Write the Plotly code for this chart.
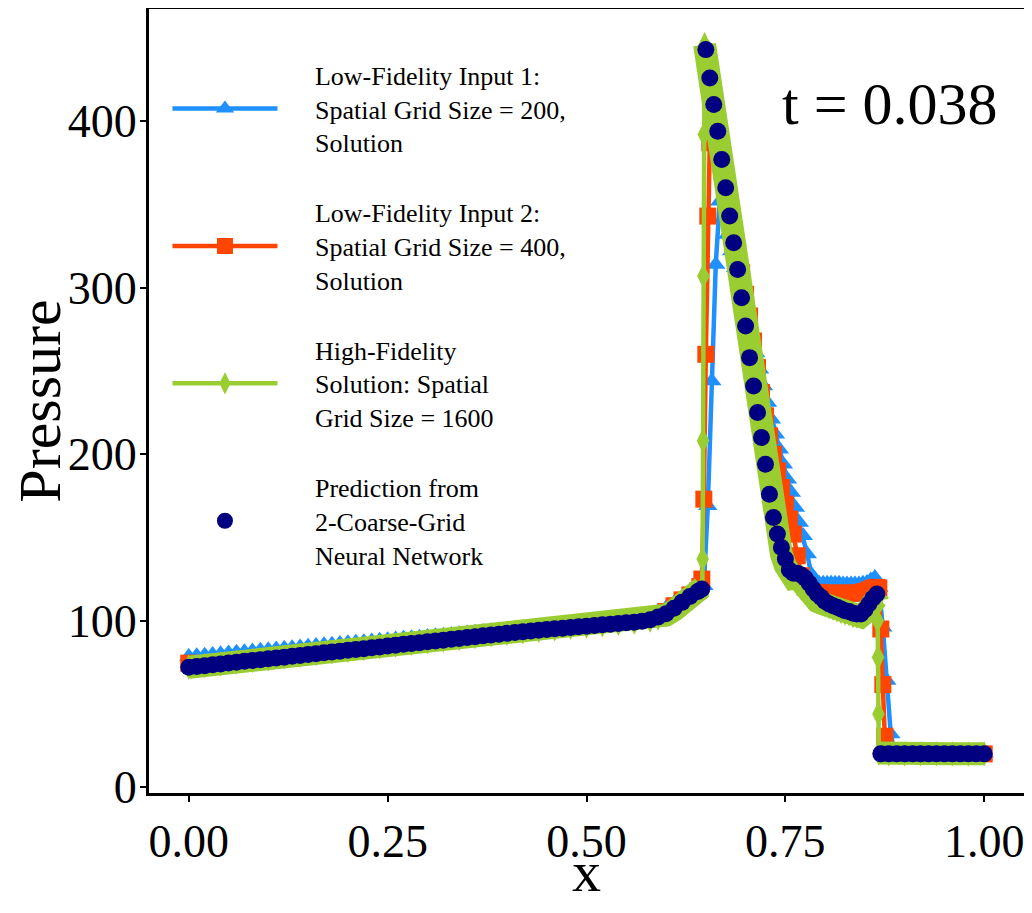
import numpy as np
import plotly.graph_objs as go

# Malhas (posições x) de cada curva
x_lf1 = np.concatenate([np.linspace(0, 0.64, 65), np.linspace(0.6475, 0.8875, 49), np.linspace(0.90, 1.0, 11)])
x_lf2 = np.concatenate([np.linspace(0, 0.58, 30),
                        [0.60, 0.61, 0.62, 0.63, 0.64, 0.6425, 0.6450, 0.6475, 0.6500, 0.6525, 0.6550, 0.6575],
                        np.linspace(0.66, 0.865, 42),
                        [0.8675, 0.8700, 0.8725, 0.8750, 0.8775],
                        np.linspace(0.88, 1.0, 7)])
x_hf = np.concatenate([np.linspace(0, 0.58, 30),
                       [0.59, 0.60, 0.61, 0.62, 0.63, 0.64, 0.6455, 0.6460, 0.6465, 0.6470, 0.6475, 0.6480, 0.6485],
                       np.linspace(0.65, 0.865, 44),
                       [0.8655, 0.8660, 0.8665, 0.8670, 0.8675],
                       np.linspace(0.88, 1.0, 7)])
x_nn = np.concatenate([np.linspace(0, 0.64, 65), np.linspace(0.645, 0.865, 45), np.linspace(0.87, 1.0, 14)])

# Pressão - baixa fidelidade, malha 200
p_lf1 = [78.5, 78.9, 79.3, 79.7, 80.1, 80.6, 81.0, 81.4, 81.8, 82.2,
         82.6, 83.0, 83.4, 83.8, 84.2, 84.7, 85.1, 85.5, 85.9, 86.3,
         86.7, 87.1, 87.4, 87.8, 88.2, 88.6, 89.0, 89.4, 89.7, 90.1,
         90.5, 90.9, 91.3, 91.7, 92.1, 92.6, 93.1, 93.5, 94.0, 94.4,
         94.9, 95.3, 95.7, 96.1, 96.5, 96.9, 97.3, 97.6, 98.0, 98.3,
         98.7, 99.1, 99.5, 99.9, 100.3, 100.8, 101.4, 102.2, 103.6, 105.6,
         107.8, 110.5, 113.5, 116.0, 118.0,
         121, 169, 244, 314, 352, 342, 332, 322, 312, 302,
         292, 282, 272, 261, 251, 241, 231, 221, 212, 203,
         194, 185, 177, 168, 159, 151, 140, 128, 123.5, 122.5,
         122.5, 122.5, 122.5, 122.5, 122.5, 122, 122, 122, 122, 122,
         122.5, 123, 124.5, 126, 120, 96, 64, 32, 21,
         20.5, 20.5, 20.5, 20.5, 20.5, 20.5, 20.5, 20.5, 20.5, 20.5, 20.5]

# Pressão - baixa fidelidade, malha 400
p_lf2 = [74.5, 74.2, 75.0, 76.1, 77.1, 78.1, 79.1, 80.1, 81.2, 82.2,
         83.2, 84.2, 85.2, 86.3, 87.3, 88.3, 89.3, 90.3, 91.4, 92.4,
         93.4, 94.3, 95.2, 96.1, 96.9, 97.7, 98.5, 99.3, 100.2, 101.6,
         105.5, 109.0, 112.5, 115.5, 118.0, 120.5, 125, 173, 260, 343, 387, 393,
         392, 382, 370, 358, 346, 334, 322, 309, 296, 283,
         268, 252, 237, 223, 211, 200, 190, 180, 170, 161,
         152, 139, 127, 120, 117.5, 117, 117, 116.5, 116.5, 116.5,
         116.5, 116.5, 116.5, 116.5, 116.5, 116.5, 116.5, 117, 117.5, 118.5,
         119.5, 120,
         119.7, 95, 61.6, 30.6, 20.5,
         20.0, 20.0, 20.0, 20.0, 20.0, 20.0, 20.0]

# Pressão - alta fidelidade, malha 1600
p_hf = [72.0, 73.0, 74.0, 75.1, 76.1, 77.1, 78.1, 79.1, 80.2, 81.2,
        82.2, 83.2, 84.2, 85.3, 86.3, 87.3, 88.3, 89.3, 90.4, 91.4,
        92.4, 93.3, 94.2, 95.1, 95.9, 96.7, 97.5, 98.3, 99.1, 100.3,
        101.5, 103.3, 106.2, 109.8, 113.3, 116.5, 120, 137, 208, 307, 392, 434, 446,
        441, 426, 410, 394, 377, 360, 343, 327, 311, 294,
        277, 258, 241, 225, 209, 193, 175, 160, 149, 140,
        133, 127.5, 125.5, 126, 122, 117, 114, 112.5, 111.5, 110.5,
        109.5, 108.5, 107.5, 106.5, 105.5, 104.5, 104, 103, 102.5, 102.5,
        104.5, 108, 111.5, 113.5,
        112, 100, 78, 44, 20.5,
        20.0, 20.0, 20.0, 20.0, 20.0, 20.0, 20.0]

# Pressão - previsão da rede neural
p_nn = [72.0, 72.5, 73.0, 73.5, 74.0, 74.6, 75.1, 75.6, 76.1, 76.6,
        77.1, 77.6, 78.1, 78.6, 79.1, 79.7, 80.2, 80.7, 81.2, 81.7,
        82.2, 82.7, 83.2, 83.7, 84.2, 84.8, 85.3, 85.8, 86.3, 86.8,
        87.3, 87.8, 88.3, 88.8, 89.3, 89.9, 90.4, 90.9, 91.4, 91.9,
        92.4, 92.9, 93.3, 93.8, 94.2, 94.7, 95.1, 95.5, 95.9, 96.3,
        96.7, 97.1, 97.5, 97.9, 98.3, 98.7, 99.1, 99.6, 100.6, 102.2,
        104.2, 107.4, 111.0, 114.5, 117.5,
        119, 443, 426, 410, 394, 377, 360, 343, 327, 311,
        294, 277, 258, 241, 225, 210, 194, 176, 162, 152,
        144, 137, 130.5, 128.5, 128.5, 127.5, 125.5, 122.5, 119, 116,
        114, 111.5, 110, 109, 108, 107, 106, 105.5, 104.5, 104,
        104, 106.5, 110, 113.5, 116,
        20.0, 20.0, 20.0, 20.0, 20.0, 20.0, 20.0, 20.0, 20.0, 20.0, 20.0, 20.0, 20.0, 20.0]

nomes = [['Low-Fidelity Input 1:', 'Spatial Grid Size = 200,', 'Solution'],
         ['Low-Fidelity Input 2:', 'Spatial Grid Size = 400,', 'Solution'],
         ['High-Fidelity', 'Solution: Spatial', 'Grid Size = 1600'],
         ['Prediction from', '2-Coarse-Grid', 'Neural Network']]

# recuo do texto da legenda (afasta o texto do simbolo, como no original)
recuo = '\u00a0' * 5
rotulos = ['<br>'.join(recuo + t for t in n) for n in nomes]


def faixa(x, y, limite=20000):
    # tira os pontos do meio dos saltos, para a faixa grossa ficar so nas partes suaves
    saida = list(y)
    for i in range(1, len(y) - 1):
        s1 = abs(y[i] - y[i - 1]) / (x[i] - x[i - 1])
        s2 = abs(y[i + 1] - y[i]) / (x[i + 1] - x[i])
        if s1 > limite and s2 > limite:
            saida[i] = None
    return saida


linhas = [
    go.Scatter(x=x_lf1, y=p_lf1, mode='lines+markers', name=rotulos[0], legendgroup='lf1',
               line=dict(color='#1E90FF', width=4.5),
               marker=dict(symbol='triangle-up', size=17, color='#1E90FF')),
    go.Scatter(x=x_lf2, y=p_lf2, mode='lines+markers', name=rotulos[1], legendgroup='lf2',
               line=dict(color='#FF4500', width=4.5),
               marker=dict(symbol='square', size=17, color='#FF4500')),
    # faixa formada pelos losangos densos da solucao de 1600 pontos
    go.Scatter(x=x_hf, y=faixa(x_hf, p_hf), mode='lines', legendgroup='hf', showlegend=False,
               line=dict(color='#9ACD32', width=23), connectgaps=False, hoverinfo='skip'),
    go.Scatter(x=x_hf, y=p_hf, mode='lines+markers', name=rotulos[2], legendgroup='hf',
               line=dict(color='#9ACD32', width=4.5),
               marker=dict(symbol='diamond-tall', size=18, color='#9ACD32')),
    go.Scatter(x=x_nn, y=p_nn, mode='markers', name=rotulos[3], legendgroup='nn',
               marker=dict(symbol='circle', size=17, color='#000080')),
]

eixo = dict(ticks='outside', ticklen=6, tickwidth=2, tickcolor='black',
            showline=True, linewidth=3, linecolor='black', mirror=True,
            showgrid=False, zeroline=False, automargin=False, tickfont=dict(size=46))

# titulos dos eixos e o tempo, como anotacoes (o titulo do eixo fica preso na margem)
textos = [dict(text='x', x=0.5, y=-0.1, xanchor='center', yanchor='middle', font=dict(size=58)),
          dict(text='Pressure', x=-0.125, y=0.5, xanchor='center', yanchor='middle',
               textangle=-90, font=dict(size=60)),
          dict(text='t = 0.038', x=0.9725, y=0.879, xanchor='right', yanchor='middle', font=dict(size=60))]
anotacoes = [dict(t, xref='paper', yref='paper', showarrow=False) for t in textos]

# a pagina tem margem de 8 px no corpo, por isso a figura fica com 1024 x 905
layout = go.Layout(width=1024, height=905,
                   margin=dict(l=141, r=8, t=1, b=120),
                   paper_bgcolor='white', plot_bgcolor='white',
                   font=dict(family='Liberation Serif', color='black'),
                   xaxis=dict(eixo, range=[-0.05, 1.05],
                              tickvals=[0, 0.25, 0.5, 0.75, 1.0],
                              ticktext=['0.00', '0.25', '0.50', '0.75', '1.00']),
                   yaxis=dict(eixo, range=[-3.5, 467.4],
                              tickvals=[0, 100, 200, 300, 400],
                              ticklabelstandoff=-6),
                   legend=dict(x=0.0211, y=0.946, xanchor='left', yanchor='top',
                               font=dict(size=26), bgcolor='rgba(0,0,0,0)',
                               itemwidth=105, tracegroupgap=33, valign='middle'),
                   annotations=anotacoes,
                   hovermode='closest')

fig = go.Figure(data=linhas, layout=layout)
fig.write_html('out.html')
